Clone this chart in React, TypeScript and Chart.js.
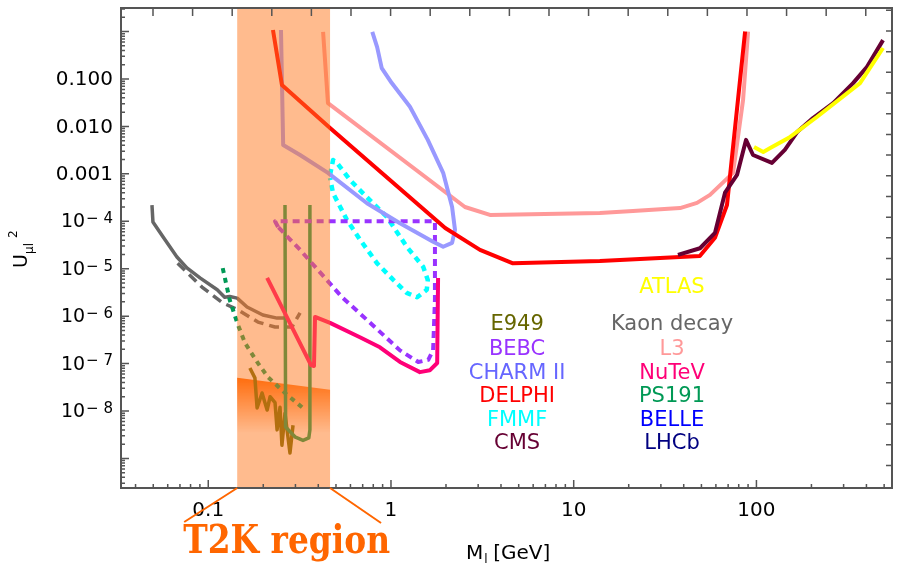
import React, { useEffect, useRef } from "react";
import { Chart, registerables } from "chart.js";
Chart.register(...registerables);

// ---- axis ranges ----
const xMin = 0.0333;
const xMax = 552;
const yMin = 2.38e-10;
const yMax = 3.14;

// ---- tick labels ----
const xTickValues = [0.1, 1, 10, 100];
const xTickLabels = ["0.1", "1", "10", "100"];
const yTickValues = [1e-1, 1e-2, 1e-3, 1e-4, 1e-5, 1e-6, 1e-7, 1e-8];
const yTickLabels = ["0.100", "0.010", "0.001", "10^-4", "10^-5", "10^-6", "10^-7", "10^-8"];

// ---- T2K region ----
const t2kRange = [0.144, 0.464];
const t2kBandTop = [5e-8, 2.8e-8];
const t2kBandFade = 3.4e-9;

// ---- series ----
const delphiX = [0.226, 0.253, 0.464, 1.98, 3.07, 4.65, 13.9, 29.7, 49, 59.3, 69, 86.7];
const delphiY = [1.08, 0.075, 0.0093, 7.2e-5, 2.5e-5, 1.3e-5, 1.45e-5, 1.68e-5, 1.86e-5, 4.5e-5, 2.2e-4, 1.0];

const l3X = [0.425, 0.452, 2.54, 3.48, 13.9, 21.1, 38.2, 47.3, 55.7, 74.5, 84.5, 90];
const l3Y = [0.98, 0.031, 2.0e-4, 1.36e-4, 1.5e-4, 1.65e-4, 1.9e-4, 2.44e-4, 3.6e-4, 1.05e-3, 0.036, 1.0];

const charmX = [0.25, 0.257, 0.318, 0.452, 0.739, 1.12, 1.7, 1.93, 2.16, 2.24, 2.16, 1.93, 1.59, 1.27, 1.01, 0.89, 0.84, 0.79];
const charmY = [1.08, 4.07e-3, 2.5e-3, 1.05e-3, 2.4e-4, 9.1e-5, 3.7e-5, 2.9e-5, 3.5e-5, 6.6e-5, 2.0e-4, 1.05e-3, 5.2e-3, 0.026, 0.082, 0.17, 0.47, 0.98];

const fmmfX = [0.464, 0.482, 0.506, 0.597, 0.739, 0.95, 1.22, 1.5, 1.59, 1.57, 1.39, 1.22, 1.03, 0.84, 0.68, 0.574, 0.482, 0.464];
const fmmfY = [9.5e-4, 1.96e-3, 1.7e-3, 7.4e-4, 3.2e-4, 1.23e-4, 2.9e-5, 1.1e-5, 5.8e-6, 3.6e-6, 2.5e-6, 3.1e-6, 5.8e-6, 1.3e-5, 4.0e-5, 1.07e-4, 3.9e-4, 8.2e-4];

const bebcX = [0.241, 0.232, 1.74, 1.74, 1.7, 1.6, 1.41, 1.12, 0.74, 0.54, 0.318, 0.241];
const bebcY = [7.6e-5, 1e-4, 1e-4, 2.2e-6, 1.9e-7, 1.2e-7, 1.08e-7, 1.9e-7, 8.3e-7, 2.5e-6, 2.5e-5, 7.6e-5];

const nutevX = [0.21, 0.365, 0.379, 0.384, 0.464, 0.676, 0.87, 1.12, 1.44, 1.63, 1.79, 1.81];
const nutevY = [6.4e-6, 9.3e-8, 8.9e-8, 9.6e-7, 7.2e-7, 3.6e-7, 2.2e-7, 1.08e-7, 6.6e-8, 7.2e-8, 1.03e-7, 6.4e-6];

const kaonX = [0.0492, 0.0498, 0.0565, 0.0674, 0.0764, 0.0901, 0.112, 0.123, 0.131, 0.144, 0.163, 0.199, 0.238, 0.266];
const kaonY = [2.2e-4, 9.7e-5, 4.7e-5, 1.77e-5, 1.04e-5, 6.4e-6, 3.6e-6, 2.5e-6, 2.6e-6, 2.4e-6, 1.56e-6, 1.06e-6, 9.1e-7, 9.1e-7];

const kaonDashX = [0.068, 0.0924, 0.12, 0.146, 0.187, 0.232, 0.287, 0.318];
const kaonDashY = [1.3e-5, 4.1e-6, 1.9e-6, 1.35e-6, 7.5e-7, 5.9e-7, 5.9e-7, 1.17e-6];

const ps191DotX = [0.12, 0.131, 0.144, 0.159, 0.187, 0.212, 0.263, 0.33];
const ps191DotY = [1.03e-5, 2.2e-6, 7.2e-7, 2.7e-7, 1.02e-7, 5.2e-8, 2.4e-8, 1.15e-8];

const ps191X = [0.263, 0.265, 0.3, 0.33, 0.355, 0.36, 0.36];
const ps191Y = [2.2e-4, 4.6e-9, 2.8e-9, 2.4e-9, 2.7e-9, 4e-9, 2.2e-4];

const e949X = [0.169, 0.18, 0.185, 0.197, 0.21, 0.218, 0.232, 0.238, 0.247, 0.253, 0.263, 0.28, 0.291];
const e949Y = [8.1e-8, 5.0e-8, 1.16e-8, 2.4e-8, 1.05e-8, 2.0e-8, 1.5e-8, 4.0e-9, 1.2e-8, 1.9e-9, 9e-9, 1.3e-9, 5e-9];

const cmsX = [37.2, 49.1, 59.3, 67.3, 78.3, 87.7, 95.8, 121.6, 143, 167, 204, 263, 338, 403, 493];
const cmsY = [1.95e-5, 2.7e-5, 5.7e-5, 4.0e-4, 9.5e-4, 5.2e-3, 2.5e-3, 1.7e-3, 3.2e-3, 7.6e-3, 0.015, 0.031, 0.082, 0.18, 0.66];

const atlasX = [97, 109, 119, 153, 215, 369, 493];
const atlasY = [3.7e-3, 2.9e-3, 3.5e-3, 6.0e-3, 0.016, 0.082, 0.45];

// ---- in-plot labels ----
const labelColX = [4.9, 34.5];
const leftLabels = ["E949", "BEBC", "CHARM II", "DELPHI", "FMMF", "CMS"];
const leftColors = ["#666600", "#9933FF", "#6666FF", "#FF0000", "#00FFFF", "#660033"];
const rightLabels = ["Kaon decay", "L3", "NuTeV", "PS191", "BELLE", "LHCb"];
const rightColors = ["#666666", "#FF9999", "#FF0077", "#009955", "#0000FF", "#000080"];
const labelRowY = [6.5e-7, 2.0e-7, 6.3e-8, 2.0e-8, 6.2e-9, 2.1e-9];
const atlasLabelY = 4.1e-6;

const pts = (xs: number[], ys: number[]) => xs.map((x, i) => ({ x, y: ys[i] }));

const FONT = "'DejaVu Sans', sans-serif";

const deco = {
  id: "deco",
  beforeDatasetsDraw(chart: any) {
    const { ctx, scales } = chart;
    const xs = scales.x;
    const ys = scales.y;
    const xl = xs.getPixelForValue(t2kRange[0]);
    const xr = xs.getPixelForValue(t2kRange[1]);
    const yl = ys.getPixelForValue(t2kBandTop[0]);
    const yr = ys.getPixelForValue(t2kBandTop[1]);
    const yb = ys.getPixelForValue(t2kBandFade);
    ctx.save();
    const g = ctx.createLinearGradient(0, Math.min(yl, yr), 0, yb);
    g.addColorStop(0, "rgba(255,100,0,1)");
    g.addColorStop(1, "rgba(255,100,0,0)");
    ctx.fillStyle = g;
    ctx.beginPath();
    ctx.moveTo(xl, yl);
    ctx.lineTo(xr, yr);
    ctx.lineTo(xr, yb);
    ctx.lineTo(xl, yb);
    ctx.closePath();
    ctx.fill();
    ctx.restore();
  },
  afterDatasetsDraw(chart: any) {
    const { ctx, scales, chartArea } = chart;
    const { left, right, top, bottom } = chartArea;
    const xs = scales.x;
    const ys = scales.y;
    const xl = xs.getPixelForValue(t2kRange[0]);
    const xr = xs.getPixelForValue(t2kRange[1]);
    ctx.save();
    // T2K overlay
    ctx.fillStyle = "rgba(255,120,30,0.5)";
    ctx.fillRect(xl, top, xr - xl, bottom - top);

    // frame
    ctx.strokeStyle = "#555";
    ctx.lineWidth = 2;
    ctx.strokeRect(left, top, right - left, bottom - top);

    // ticks
    ctx.lineWidth = 1.5;
    ctx.beginPath();
    for (let d = -11; d <= 1; d++) {
      for (let k = 1; k <= 9; k++) {
        const v = k * Math.pow(10, d);
        if (v > yMin && v < yMax) {
          const py = ys.getPixelForValue(v);
          const len = k === 1 ? 8 : 4;
          ctx.moveTo(left, py);
          ctx.lineTo(left + len, py);
        }
      }
    }
    for (let d = -2; d <= 3; d++) {
      for (let k = 1; k <= 9; k++) {
        const v = k * Math.pow(10, d);
        if (v > xMin && v < xMax) {
          const px = xs.getPixelForValue(v);
          const len = k === 1 ? 8 : 4;
          ctx.moveTo(px, bottom);
          ctx.lineTo(px, bottom - len);
        }
      }
    }
    const w = right - left;
    const h = bottom - top;
    for (let px = left + w * 0.0415; px < right - 2; px += w * 0.05136) {
      ctx.moveTo(px, top);
      ctx.lineTo(px, top + 8);
    }
    for (let py = top + h * 0.0048; py < bottom - 2; py += h * 0.0431) {
      ctx.moveTo(right, py);
      ctx.lineTo(right - 6, py);
    }
    ctx.stroke();

    // y tick labels
    ctx.fillStyle = "#000";
    ctx.textBaseline = "middle";
    yTickValues.forEach((v, i) => {
      const py = ys.getPixelForValue(v);
      const lab = yTickLabels[i];
      const rx = left - 8;
      if (lab.includes("^")) {
        const [base, exp] = lab.split("^");
        const expStr = exp.replace("-", "\u2212 ");
        ctx.font = `15px ${FONT}`;
        const we = ctx.measureText(expStr).width;
        ctx.font = `19px ${FONT}`;
        const wb = ctx.measureText(base).width;
        ctx.textAlign = "left";
        ctx.fillText(base, rx - we - wb - 1, py + 1);
        ctx.font = `15px ${FONT}`;
        ctx.fillText(expStr, rx - we, py - 2);
      } else {
        ctx.font = `20px ${FONT}`;
        ctx.textAlign = "right";
        ctx.fillText(lab, rx, py + 1);
      }
    });
    // x tick labels
    ctx.textAlign = "center";
    ctx.textBaseline = "alphabetic";
    ctx.font = `20px ${FONT}`;
    xTickValues.forEach((v, i) => {
      ctx.fillText(xTickLabels[i], xs.getPixelForValue(v), bottom + 28);
    });

    // in-plot labels
    ctx.textBaseline = "middle";
    ctx.font = `21px ${FONT}`;
    leftLabels.forEach((t, i) => {
      ctx.fillStyle = leftColors[i];
      ctx.fillText(t, xs.getPixelForValue(labelColX[0]), ys.getPixelForValue(labelRowY[i]));
      ctx.fillStyle = rightColors[i];
      ctx.fillText(rightLabels[i], xs.getPixelForValue(labelColX[1]), ys.getPixelForValue(labelRowY[i]));
    });
    ctx.fillStyle = "#FFFF00";
    ctx.fillText("ATLAS", xs.getPixelForValue(labelColX[1]), ys.getPixelForValue(atlasLabelY));

    // y axis title  U_{μl}^2
    ctx.save();
    ctx.translate(27, 268);
    ctx.rotate(-Math.PI / 2);
    ctx.fillStyle = "#000";
    ctx.textAlign = "left";
    ctx.textBaseline = "alphabetic";
    ctx.font = `19px ${FONT}`;
    ctx.fillText("U", 0, 0);
    ctx.font = `12px ${FONT}`;
    ctx.fillText("\u03BCl", 14, 6);
    ctx.fillText("2", 30, -10);
    ctx.restore();

    // x axis title  M_l [GeV]
    ctx.fillStyle = "#000";
    ctx.textAlign = "left";
    ctx.textBaseline = "alphabetic";
    ctx.font = `20px ${FONT}`;
    ctx.fillText("M", 466, 559);
    const mw = ctx.measureText("M").width;
    ctx.font = `12px ${FONT}`;
    ctx.fillText("l", 466 + mw + 1, 563);
    ctx.font = `20px ${FONT}`;
    ctx.fillText("[GeV]", 466 + mw + 10, 559);

    // T2K region annotation
    ctx.strokeStyle = "#FF6600";
    ctx.lineWidth = 2;
    ctx.beginPath();
    ctx.moveTo(xl, bottom);
    ctx.lineTo(xl - 53, bottom + 34);
    ctx.moveTo(xr, bottom);
    ctx.lineTo(xr + 51, bottom + 35);
    ctx.stroke();
    ctx.fillStyle = "#FF6600";
    ctx.font = "bold 40px 'DejaVu Serif', serif";
    const tw = ctx.measureText("T2K region").width;
    ctx.save();
    ctx.translate(xl - 54, bottom + 65);
    ctx.scale(207 / tw, 1);
    ctx.fillText("T2K region", 0, 0);
    ctx.restore();
    ctx.restore();
  },
};

export default function App() {
  const ref = useRef<HTMLCanvasElement | null>(null);
  useEffect(() => {
    document.body.style.margin = "0";
    const mk = (label: string, xs: number[], ys: number[], color: string, width: number, dash: number[] = []) => ({
      label,
      data: pts(xs, ys),
      borderColor: color,
      backgroundColor: color,
      borderWidth: width,
      borderDash: dash,
      pointRadius: 0,
      fill: false,
      tension: 0,
      borderCapStyle: "butt",
      borderJoinStyle: "round",
    });
    const chart = new Chart(ref.current as HTMLCanvasElement, {
      type: "line",
      data: {
        datasets: [
          mk("ATLAS", atlasX, atlasY, "#FFFF00", 4),
          mk("CMS", cmsX, cmsY, "#660033", 4),
          mk("DELPHI", delphiX, delphiY, "#FF0000", 4),
          mk("CHARM II", charmX, charmY, "#9999FF", 4),
          mk("L3", l3X, l3Y, "#FF9999", 4),
          mk("NuTeV", nutevX, nutevY, "#FF0077", 4),
          mk("BEBC", bebcX, bebcY, "#9933FF", 4, [7, 5]),
          mk("FMMF", fmmfX, fmmfY, "#00FFFF", 4.5, [6, 5]),
          mk("PS191", ps191X, ps191Y, "#009955", 3.5),
          mk("PS191 dotted", ps191DotX, ps191DotY, "#009955", 4, [5, 5]),
          mk("E949", e949X, e949Y, "#666600", 3.5),
          mk("Kaon decay", kaonX, kaonY, "#666666", 3.5),
          mk("Kaon decay dashed", kaonDashX, kaonDashY, "#666666", 3.5, [10, 6]),
        ],
      },
      options: {
        responsive: false,
        animation: false,
        devicePixelRatio: 1,
        layout: { padding: { top: 8, right: 6, left: 0, bottom: 0 } },
        plugins: { legend: { display: false }, tooltip: { enabled: false } },
        scales: {
          x: {
            type: "logarithmic",
            min: xMin,
            max: xMax,
            grid: { display: false },
            border: { display: false },
            ticks: { display: false },
            afterFit: (s: any) => {
              s.height = 77;
            },
          },
          y: {
            type: "logarithmic",
            min: yMin,
            max: yMax,
            grid: { display: false },
            border: { display: false },
            ticks: { display: false },
            afterFit: (s: any) => {
              s.width = 121;
            },
          },
        },
      } as any,
      plugins: [deco],
    });
    return () => chart.destroy();
  }, []);
  return (
    <div style={{ width: 898, height: 565 }}>
      <canvas ref={ref} width={898} height={565} style={{ width: 898, height: 565, display: "block" }} />
    </div>
  );
}
